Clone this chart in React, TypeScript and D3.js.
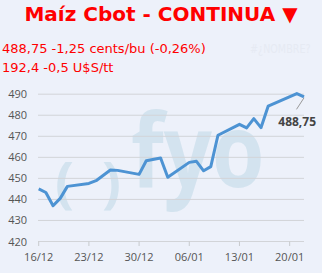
import React from "react";
import * as d3 from "d3";

const dates = [
  "2024-12-16", "2024-12-17", "2024-12-18", "2024-12-19", "2024-12-20",
  "2024-12-23", "2024-12-24", "2024-12-26", "2024-12-27", "2024-12-30",
  "2024-12-31", "2025-01-02", "2025-01-03", "2025-01-06", "2025-01-07",
  "2025-01-08", "2025-01-09", "2025-01-10", "2025-01-13", "2025-01-14",
  "2025-01-15", "2025-01-16", "2025-01-17", "2025-01-21", "2025-01-22",
];
const values = [
  445.0, 443.3, 437.0, 440.5, 446.2,
  447.6, 448.9, 454.0, 453.8, 451.9,
  458.4, 459.7, 450.5, 457.6, 458.1,
  453.6, 455.6, 470.5, 475.7, 474.0,
  478.4, 474.1, 484.3, 490.3, 488.75,
];
const yTicks = [420, 430, 440, 450, 460, 470, 480, 490];
const xTickDates = ["2024-12-16", "2024-12-23", "2024-12-30", "2025-01-06", "2025-01-13", "2025-01-20"];
const title = "Maíz Cbot - CONTINUA ▼";
const line1 = "488,75 -1,25 cents/bu (-0,26%)";
const line2 = "192,4 -0,5 U$S/tt";
const lastLabel = "488,75";

const W = 322;
const H = 273;
const parse = d3.utcParse("%Y-%m-%d");
const fmt = d3.utcFormat("%d/%m");

export default function App() {
  const pts = dates.map((d, i) => ({ date: parse(d) as Date, v: values[i] }));
  const x = d3
    .scaleUtc()
    .domain([parse("2024-12-16") as Date, parse("2025-01-22") as Date])
    .range([38.7, 304]);
  const y = d3.scaleLinear().domain([420, 490]).range([241.5, 94.2]);
  const line = d3
    .line<{ date: Date; v: number }>()
    .x((d) => x(d.date))
    .y((d) => y(d.v));
  const last = pts[pts.length - 1];
  const lx = x(last.date);
  const ly = y(last.v);
  const axisFont = "'Open Sans', 'Liberation Sans', sans-serif";
  return (
    <svg
      width={W}
      height={H}
      style={{ position: "absolute", left: 0, top: 0, display: "block" }}
    >
      <rect x={0} y={0} width={W} height={H} fill="#edf1fa" />
      {/* watermark */}
      <g fill="#d3e3ef" fontFamily="'Open Sans', sans-serif" fontWeight="bold">
        <text x={55} y={202} fontSize={56}>(</text>
        <text x={102} y={202} fontSize={56}>)</text>
        <text transform="translate(131,187) scale(0.83,1)" x={0} y={0} fontSize={102}>
          fyo
        </text>
      </g>
      <text
        x={161}
        y={21}
        textAnchor="middle"
        fill="#ff0000"
        fontFamily="'DejaVu Sans', Verdana, sans-serif"
        fontWeight="bold"
        fontSize={20}
      >
        {title}
      </text>
      <text x={2} y={53} fill="#ff0000" fontFamily="'DejaVu Sans', Verdana, sans-serif" fontSize={13}>
        {line1}
      </text>
      <text x={2} y={72} fill="#ff0000" fontFamily="'DejaVu Sans', Verdana, sans-serif" fontSize={13}>
        {line2}
      </text>
      <text
        transform="translate(250,53) scale(0.8,1)"
        x={0}
        y={0}
        fill="#e6eaf3"
        fontFamily="'DejaVu Sans', Verdana, sans-serif"
        fontSize={12}
      >
        #¿NOMBRE?
      </text>
      {/* grid */}
      {yTicks.map((t) => (
        <g key={t}>
          <line x1={38} x2={304} y1={y(t)} y2={y(t)} stroke="#d2d4d8" strokeWidth={1} />
          <text
            x={27}
            y={y(t) + 4}
            textAnchor="end"
            fill="#555"
            fontFamily={axisFont}
            fontSize={11}
          >
            {t}
          </text>
        </g>
      ))}
      {xTickDates.map((d) => {
        const xd = x(parse(d) as Date);
        return (
          <g key={d}>
            <line x1={xd} x2={xd} y1={241.5} y2={246} stroke="#c8cacd" strokeWidth={1} />
            <text
              x={xd}
              y={261}
              textAnchor="middle"
              fill="#555"
              fontFamily={axisFont}
              fontSize={11}
            >
              {fmt(parse(d) as Date)}
            </text>
          </g>
        );
      })}
      <path d={line(pts) || ""} fill="none" stroke="#4d93d3" strokeWidth={3} strokeLinejoin="round" />
      <line x1={lx} y1={ly + 1} x2={lx - 7.5} y2={ly + 12.5} stroke="#999" strokeWidth={1} />
      <text
        x={316}
        y={126}
        textAnchor="end"
        fill="#444"
        fontFamily={axisFont}
        fontWeight="bold"
        fontSize={12}
      >
        {lastLabel}
      </text>
    </svg>
  );
}
